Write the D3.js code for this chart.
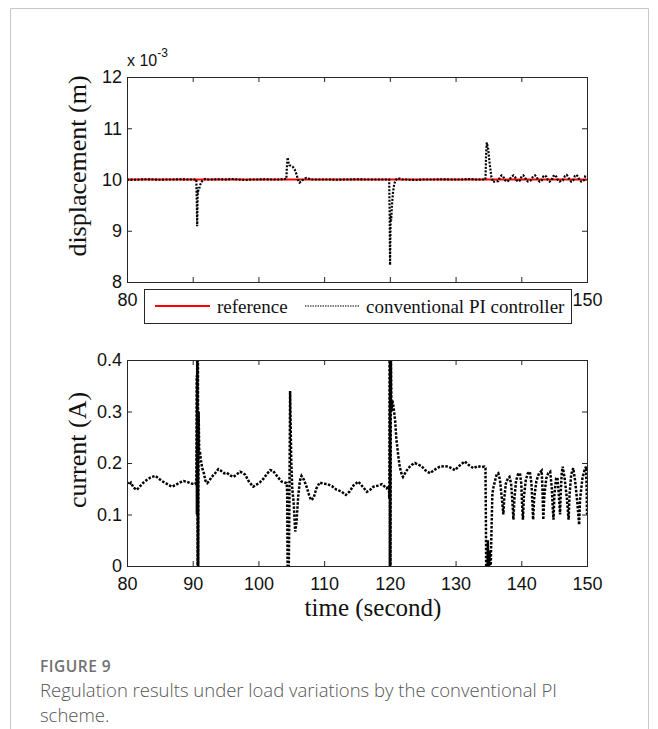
<!DOCTYPE html>
<html>
<head>
<meta charset="utf-8">
<script src="https://cdn.jsdelivr.net/npm/d3@7"></script>
<style>
  body { margin: 0; background: #fff; }
  svg { display: block; }
</style>
</head>
<body>
<svg id="chart"></svg>
<script>
//data: time in seconds, displacement in 1e-3 m
const tDisp = [80, 81, 82, 83, 84, 85, 86, 87, 88, 89, 90, 90.55, 90.62, 90.68, 90.72, 90.78, 90.85, 90.95, 91.1, 91.3, 91.6, 91.9, 92.4,
  93, 94, 95, 96, 97, 98, 99, 100, 101, 102, 103, 104.25, 104.35, 104.45, 104.55, 104.7, 104.9, 105.2, 105.5, 105.8, 106.0, 106.25,
  106.5, 106.9, 107.3, 107.6, 108, 108.5, 109, 110, 111, 112, 113, 114, 115, 116, 117, 118, 119, 119.9, 119.97, 120.03, 120.08,
  120.13, 120.2, 120.3, 120.45, 120.65, 120.85, 121.1, 121.5, 121.9, 122.5, 123, 124, 125, 126, 127, 128, 129, 130, 131, 132, 133,
  134, 134.45, 134.55, 134.65, 134.75, 134.95, 135.2, 135.45, 135.7, 136.0, 136.5, 136.75, 137.0, 137.25, 137.45, 137.7, 138.0,
  138.5, 138.8, 139.05, 139.25, 139.5, 139.8, 140.05, 140.3, 140.55, 140.75, 141.0, 141.4, 141.8, 142.1, 142.35, 142.55, 142.8,
  143.1, 143.35, 143.6, 143.85, 144.05, 144.3, 144.6, 144.85, 145.1, 145.35, 145.55, 145.8, 146.3, 146.65, 146.9, 147.15, 147.35,
  147.6, 147.9, 148.15, 148.4, 148.65, 148.85, 149.1, 149.5, 149.75, 150];
const dispVals = [10.0, 9.995, 10.0, 10.005, 10.0, 9.995, 10.0, 10.0, 10.005, 10.0, 10.0, 10.0, 9.55, 9.09, 9.45, 9.85, 9.78, 9.8, 9.88, 9.95,
  9.99, 10.01, 10.0, 10.0, 10.005, 10.0, 10.01, 10.0, 9.99, 10.0, 10.0, 10.005, 10.0, 10.0, 10.01, 10.3, 10.43, 10.34, 10.28, 10.27,
  10.25, 10.2, 10.1, 10.0, 9.94, 9.96, 10.01, 10.03, 10.02, 10.0, 10.0, 10.0, 10.0, 10.0, 9.995, 10.0, 10.0, 10.005, 10.0, 10.0,
  10.0, 10.0, 10.0, 9.3, 8.33, 8.9, 9.3, 9.2, 9.45, 9.72, 9.9, 9.98, 10.02, 10.02, 10.0, 10.0, 9.995, 9.99, 10.0, 10.0, 10.0,
  10.005, 10.0, 10.0, 10.0, 10.01, 10.0, 10.0, 10.0, 10.0, 10.5, 10.72, 10.6, 10.3, 10.05, 9.95, 9.96, 9.97, 10.05, 10.08, 10.06,
  10.0, 9.96, 9.97, 10.05, 10.08, 10.05, 9.99, 9.96, 9.98, 10.06, 10.08, 10.05, 9.99, 9.96, 9.98, 10.06, 10.08, 10.05, 9.99, 9.96,
  9.98, 10.06, 10.08, 10.05, 9.99, 9.96, 9.98, 10.06, 10.09, 10.05, 9.99, 9.96, 9.98, 10.07, 10.09, 10.05, 9.99, 9.96, 9.98, 10.07,
  10.09, 10.05, 9.99, 9.96, 9.98, 10.07, 10.08];
const refVal = 10;

//data: time in seconds, current in A
const tCurr = [80, 80.3, 80.6, 81.0, 81.5, 82.0, 82.5, 83.0, 83.6, 84.3, 84.8, 85.3, 86.0, 86.8, 87.5, 88.0, 88.6, 89.2, 89.8, 90.4,
  90.55, 90.6, 90.64, 90.69, 90.74, 90.79, 90.84, 90.9, 91.0, 91.1, 91.25, 91.45, 91.7, 91.95, 92.2, 92.5, 92.9, 93.4, 93.9, 94.3,
  94.8, 95.2, 95.7, 96.2, 96.7, 97.2, 97.6, 98.0, 98.5, 99.2, 99.7, 100.2, 100.8, 101.3, 101.8, 102.2, 102.5, 103.0, 103.5, 104.0,
  104.3, 104.38, 104.45, 104.6, 104.7, 104.82, 104.9, 105.0, 105.15, 105.35, 105.6, 105.8, 106.05, 106.3, 106.55, 106.9, 107.3,
  107.7, 108.0, 108.4, 108.8, 109.3, 109.9, 110.5, 111.2, 111.9, 112.6, 113.3, 113.9, 114.5, 115.2, 115.8, 116.5, 117.0, 117.5,
  118.2, 118.8, 119.5, 119.85, 119.92, 119.96, 120.0, 120.05, 120.1, 120.16, 120.25, 120.38, 120.55, 120.8, 121.0, 121.3, 121.5,
  121.8, 122.0, 122.4, 122.8, 123.3, 123.8, 124.3, 124.8, 125.4, 126.1, 126.7, 127.2, 127.6, 128.3, 128.9, 129.4, 129.9, 130.6,
  131.4, 132.0, 132.7, 133.4, 134.0, 134.4, 134.55, 134.62, 134.67, 134.85, 134.92, 135.0, 135.2, 135.3, 135.45, 135.6, 135.75,
  136.0, 136.25, 136.5, 136.75, 137.05, 137.27, 137.4, 137.65, 137.95, 138.2, 138.45, 138.65, 138.8, 138.95, 139.2, 139.5, 139.8,
  140.0, 140.12, 140.25, 140.4, 140.7, 141.0, 141.3, 141.55, 141.7, 141.8, 141.95, 142.3, 142.7, 143.1, 143.22, 143.35, 143.5,
  143.8, 144.1, 144.4, 144.65, 144.8, 144.9, 145.05, 145.3, 145.5, 145.7, 145.9, 146.0, 146.15, 146.3, 146.6, 146.95, 147.2,
  147.35, 147.6, 147.9, 148.2, 148.55, 148.8, 148.95, 149.3, 149.6, 149.85, 149.95, 150];
const currVals = [0.163, 0.158, 0.162, 0.152, 0.148, 0.155, 0.162, 0.167, 0.172, 0.175, 0.17, 0.165, 0.16, 0.154, 0.158, 0.162, 0.165,
  0.163, 0.16, 0.159, 0.165, 0.37, 0.1, 0.45, -0.03, 0.45, -0.03, 0.3, 0.215, 0.222, 0.205, 0.19, 0.18, 0.165, 0.161, 0.165, 0.173,
  0.18, 0.188, 0.185, 0.18, 0.181, 0.176, 0.173, 0.178, 0.183, 0.181, 0.177, 0.165, 0.154, 0.158, 0.162, 0.17, 0.179, 0.186, 0.185,
  0.18, 0.172, 0.164, 0.162, 0.161, 0.14, -0.03, -0.03, 0.1, 0.34, 0.28, 0.2, 0.15, 0.125, 0.067, 0.085, 0.135, 0.165, 0.175, 0.168,
  0.155, 0.138, 0.128, 0.132, 0.15, 0.162, 0.16, 0.159, 0.155, 0.148, 0.145, 0.138, 0.145, 0.157, 0.164, 0.155, 0.144, 0.148, 0.154,
  0.156, 0.159, 0.151, 0.155, 0.13, 0.45, -0.03, 0.45, -0.03, 0.42, 0.3, 0.322, 0.31, 0.283, 0.245, 0.212, 0.193, 0.178, 0.173,
  0.182, 0.19, 0.196, 0.2, 0.197, 0.194, 0.186, 0.18, 0.186, 0.19, 0.193, 0.194, 0.193, 0.19, 0.186, 0.195, 0.203, 0.196, 0.19,
  0.194, 0.192, 0.193, 0.19, 0.08, -0.03, -0.03, 0.05, -0.03, 0.03, -0.03, 0.06, 0.14, 0.152, 0.165, 0.178, 0.18, 0.168, 0.13, 0.1,
  0.13, 0.16, 0.17, 0.173, 0.16, 0.125, 0.09, 0.13, 0.165, 0.178, 0.18, 0.16, 0.12, 0.09, 0.135, 0.168, 0.18, 0.183, 0.16, 0.12,
  0.09, 0.13, 0.165, 0.18, 0.185, 0.15, 0.09, 0.135, 0.17, 0.18, 0.183, 0.15, 0.11, 0.09, 0.14, 0.17, 0.172, 0.14, 0.1, 0.14, 0.18,
  0.193, 0.17, 0.13, 0.09, 0.14, 0.178, 0.19, 0.165, 0.12, 0.08, 0.13, 0.17, 0.185, 0.193, 0.15, 0.1];

//ticks (the legend hides the inner time labels of the top panel)
const xTicks = [80, 90, 100, 110, 120, 130, 140, 150];
const xTicksTopLabels = [80, 150];
const dispTicks = [8, 9, 10, 11, 12];
const currTicks = [0, 0.1, 0.2, 0.3, 0.4];

const W = 658, H = 729;
const left = 127, right = 587;
const top1 = 77, bot1 = 282;
const top2 = 360, bot2 = 566;
const axisCol = "#262626";
const tickFont = "Liberation Sans, Arial, sans-serif";
const texFont = "Liberation Serif, Times New Roman, serif";

const svg = d3.select("#chart")
  .attr("width", W)
  .attr("height", H);

svg.append("rect").attr("width", W).attr("height", H).attr("fill", "#fff");

//outer frame, open at the bottom
svg.append("path")
  .attr("d", "M10.5," + H + "V8.5H648.5V" + H)
  .attr("fill", "none")
  .attr("stroke", "#c8c8c8")
  .attr("stroke-width", 1);

const x = d3.scaleLinear().domain([80, 150]).range([left, right]);
const y1 = d3.scaleLinear().domain([8, 12]).range([bot1, top1]);
const y2 = d3.scaleLinear().domain([0, 0.4]).range([bot2, top2]);

function styleAxis(g) {
  g.select(".domain").remove();
  g.selectAll(".tick line").attr("stroke", axisCol);
  g.selectAll(".tick text")
    .attr("fill", "#111")
    .style("font-family", tickFont)
    .style("font-size", "18px");
}

function drawPanel(yScale, yTicks, xLabels, yTop, yBot, yFmt) {
  let inner = xTicks.slice(1, -1);
  let innerY = yTicks.slice(1, -1);

  svg.append("g")
    .attr("transform", "translate(0," + yBot + ")")
    .call(d3.axisBottom(x).tickValues(xLabels).tickFormat(d3.format("d"))
      .tickSizeInner(0).tickSizeOuter(0).tickPadding(11.5))
    .call(styleAxis);

  //inward ticks on all four sides
  svg.append("g")
    .attr("transform", "translate(0," + yBot + ")")
    .call(d3.axisBottom(x).tickValues(inner).tickFormat("").tickSizeInner(-5).tickSizeOuter(0))
    .call(styleAxis);
  svg.append("g")
    .attr("transform", "translate(0," + yTop + ")")
    .call(d3.axisTop(x).tickValues(inner).tickFormat("").tickSizeInner(-5).tickSizeOuter(0))
    .call(styleAxis);

  svg.append("g")
    .attr("transform", "translate(" + left + ",0)")
    .call(d3.axisLeft(yScale).tickValues(yTicks).tickFormat(yFmt)
      .tickSizeInner(0).tickSizeOuter(0).tickPadding(5))
    .call(styleAxis);
  svg.append("g")
    .attr("transform", "translate(" + left + ",0)")
    .call(d3.axisLeft(yScale).tickValues(innerY).tickFormat("").tickSizeInner(-5).tickSizeOuter(0))
    .call(styleAxis);
  svg.append("g")
    .attr("transform", "translate(" + right + ",0)")
    .call(d3.axisRight(yScale).tickValues(innerY).tickFormat("").tickSizeInner(-5).tickSizeOuter(0))
    .call(styleAxis);
}

drawPanel(y1, dispTicks, xTicksTopLabels, top1, bot1, d3.format("d"));
drawPanel(y2, currTicks, xTicks, top2, bot2, d => d === 0 ? "0" : d3.format(".1f")(d));

//clip areas
const defs = svg.append("defs");
defs.append("clipPath").attr("id", "clip1").append("rect")
  .attr("x", left).attr("y", top1).attr("width", right - left).attr("height", bot1 - top1);
defs.append("clipPath").attr("id", "clip2").append("rect")
  .attr("x", left).attr("y", top2).attr("width", right - left).attr("height", bot2 - top2);

//lines
const dispData = tDisp.map((t, i) => ({t: t, v: dispVals[i]}));
const currData = tCurr.map((t, i) => ({t: t, v: currVals[i]}));

const g1 = svg.append("g").attr("clip-path", "url(#clip1)");
g1.append("path")
  .datum([80, 150])
  .attr("fill", "none")
  .attr("stroke", "#ff0000")
  .attr("stroke-width", 2)
  .attr("d", d3.line().x(d => x(d)).y(() => y1(refVal)));
g1.append("path")
  .datum(dispData)
  .attr("fill", "none")
  .attr("stroke", "#000")
  .attr("stroke-width", 2.2)
  .attr("stroke-dasharray", "2,1.5")
  .attr("d", d3.line().x(d => x(d.t)).y(d => y1(d.v)));

const g2 = svg.append("g").attr("clip-path", "url(#clip2)");
g2.append("path")
  .datum(currData)
  .attr("fill", "none")
  .attr("stroke", "#000")
  .attr("stroke-width", 2.5)
  .attr("stroke-dasharray", "2.5,1.5")
  .attr("d", d3.line().x(d => x(d.t)).y(d => y2(d.v)));

//axes boxes
[[top1, bot1], [top2, bot2]].forEach(function(p) {
  svg.append("rect")
    .attr("x", left + 0.5).attr("y", p[0] + 0.5)
    .attr("width", right - left).attr("height", p[1] - p[0])
    .attr("fill", "none")
    .attr("stroke", axisCol)
    .attr("stroke-width", 1);
});

//exponent label
const expo = svg.append("text")
  .attr("x", left)
  .attr("y", 66)
  .style("font-family", tickFont)
  .style("font-size", "16px")
  .attr("fill", "#111");
expo.append("tspan").text("x 10");
expo.append("tspan").attr("dy", -9).style("font-size", "12px").text("-3");

//axis labels
svg.append("text")
  .attr("transform", "translate(86,166) rotate(-90)")
  .style("text-anchor", "middle")
  .style("font-family", texFont)
  .style("font-size", "26px")
  .attr("fill", "#111")
  .text("displacement (m)");

svg.append("text")
  .attr("transform", "translate(86,450) rotate(-90)")
  .style("text-anchor", "middle")
  .style("font-family", texFont)
  .style("font-size", "26px")
  .attr("fill", "#111")
  .text("current (A)");

svg.append("text")
  .attr("x", 373)
  .attr("y", 616)
  .style("text-anchor", "middle")
  .style("font-family", texFont)
  .style("font-size", "25px")
  .attr("fill", "#111")
  .text("time (second)");

//legend
const leg = svg.append("g");
leg.append("rect")
  .attr("x", 144.5).attr("y", 289.5)
  .attr("width", 427).attr("height", 34)
  .attr("fill", "#fff")
  .attr("stroke", axisCol);
leg.append("line")
  .attr("x1", 155).attr("x2", 210).attr("y1", 306).attr("y2", 306)
  .attr("stroke", "#ff0000").attr("stroke-width", 2);
leg.append("text")
  .attr("x", 217).attr("y", 312.5)
  .style("font-family", texFont).style("font-size", "19px")
  .attr("fill", "#111")
  .text("reference");
leg.append("line")
  .attr("x1", 305).attr("x2", 359).attr("y1", 306).attr("y2", 306)
  .attr("stroke", "#000").attr("stroke-width", 1.2)
  .attr("stroke-dasharray", "1.5,1");
leg.append("text")
  .attr("x", 366).attr("y", 312.5)
  .style("font-family", texFont).style("font-size", "19px")
  .attr("fill", "#111")
  .text("conventional PI controller");

//caption
svg.append("text")
  .attr("x", 40).attr("y", 672)
  .style("font-family", "Open Sans, sans-serif")
  .style("font-size", "15.5px")
  .style("font-weight", 600)
  .style("letter-spacing", "0.5px")
  .attr("fill", "#707070")
  .text("FIGURE 9");
svg.append("text")
  .attr("x", 40).attr("y", 697)
  .style("font-family", "Open Sans, sans-serif")
  .style("font-size", "18.5px")
  .style("font-weight", 300)
  .attr("fill", "#555")
  .text("Regulation results under load variations by the conventional PI");
svg.append("text")
  .attr("x", 40).attr("y", 722)
  .style("font-family", "Open Sans, sans-serif")
  .style("font-size", "18.5px")
  .style("font-weight", 300)
  .attr("fill", "#555")
  .text("scheme.");
</script>
</body>
</html>
